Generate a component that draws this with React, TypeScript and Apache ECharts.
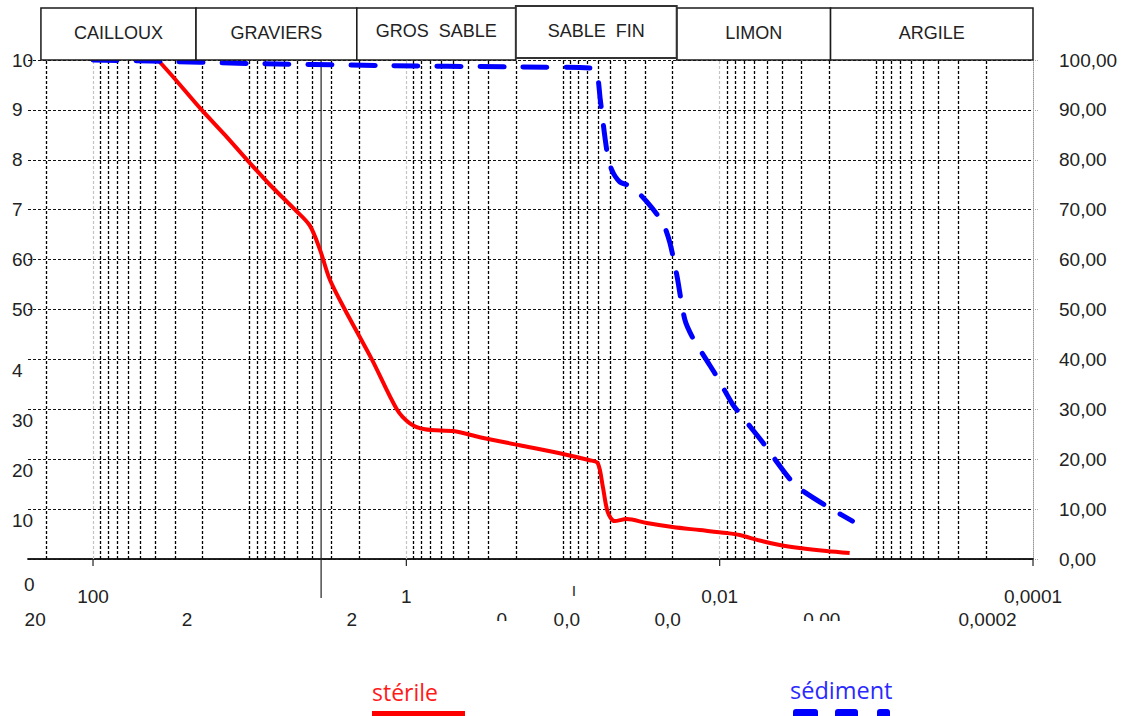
import React, { useEffect, useRef } from "react";
import * as echarts from "echarts";

// ---------- data ----------
const CLASS_NAMES = ["CAILLOUX", "GRAVIERS", "GROS  SABLE", "SABLE  FIN", "LIMON", "ARGILE"];
const CLASS_EDGES = [215, 22, 2.07, 0.2, 0.0188, 0.00196, 0.0001]; // mm

const STERILE_D = [38.5, 30, 20.8, 14.4, 10.4, 7.43, 5.14, 4.13, 3.56, 3.08, 2.47, 1.66, 1.15, 0.95, 0.762, 0.49, 0.34, 0.189, 0.105, 0.0675, 0.06, 0.0557, 0.0518, 0.0468, 0.0392, 0.0292, 0.02, 0.0134, 0.00902, 0.00745, 0.00556, 0.00414, 0.00309, 0.00208, 0.00148];
const STERILE_P = [100, 96.2, 90.4, 85, 80, 75, 70, 66.8, 62, 56, 50, 40, 30, 27.2, 26, 25.6, 24.4, 22.8, 21.2, 19.8, 19.2, 14.5, 9.4, 7.6, 8.0, 7.2, 6.4, 5.8, 5.2, 4.8, 3.7, 2.8, 2.2, 1.6, 1.2];

const SEDIMENT_D = [100, 43.3, 10, 1.5, 0.2, 0.0675, 0.061, 0.0578, 0.0526, 0.0489, 0.0435, 0.0364, 0.0292, 0.0231, 0.0208, 0.0188, 0.0167, 0.0149, 0.0121, 0.01045, 0.00826, 0.00713, 0.00532, 0.00459, 0.00347, 0.00287, 0.00193, 0.00142];
const SEDIMENT_P = [100, 99.8, 99.3, 98.9, 98.6, 98.4, 97.6, 92, 82, 78, 75.6, 74.6, 71.6, 67.4, 63.4, 57, 48, 44.4, 39.8, 36.6, 31, 28.4, 23.4, 20.6, 15.6, 13.4, 10, 7.6];

const X_MIN = 0.0001;
const X_MAX = 260;

const GRID_DASHED = [200, 90, 80, 70, 60, 50, 40, 30, 20, 10, 9, 8, 7, 6, 5, 4, 3, 2,
  0.9, 0.8, 0.7, 0.6, 0.5, 0.4, 0.3, 0.2, 0.1, 0.09, 0.08, 0.07, 0.06, 0.05, 0.04, 0.03, 0.02,
  0.009, 0.008, 0.007, 0.006, 0.005, 0.004, 0.003, 0.002, 0.001,
  0.0009, 0.0008, 0.0007, 0.0006, 0.0005, 0.0004, 0.0003, 0.0002];
const GRID_LIGHT = [100, 1, 0.01];
const SOLID_LINE_AT = 3.5;

const X_LABEL_VALUES = [100, 1, 0.01, 0.0001];
const X_LABEL_TEXTS = ["100", "1", "0,01", "0,0001"];

const ROW2_TEXTS = ["20", "2", "2", "0", "0,0", "0,0", "0,00", "0,0002"];
const ROW2_AT = [234, 25.1, 2.23, 0.246, 0.0946, 0.0215, 0.00223, 0.000195];
const ROW2_CLIPPED = [false, false, false, true, false, false, true, false];
const STRAY_MARK_TEXT = "I";
const STRAY_MARK_AT = 0.0853;

const Y_VALUES = [0, 10, 20, 30, 40, 50, 60, 70, 80, 90, 100];
const LEFT_TEXTS = ["0", "10", "20", "30", "4", "50", "60", "7", "8", "9", "10"];
const LEFT_STYLE = ["c", "b", "b", "b", "b", "a", "a", "a", "a", "a", "a"];

const LEGEND_NAMES = ["stérile", "sédiment"];

const FONT = "'Liberation Sans', Arial, sans-serif";

function zip(a: number[], b: number[]) {
  return a.map((v, i) => [v, b[i]]);
}

export default function App() {
  const ref = useRef<HTMLDivElement>(null);

  useEffect(() => {
    if (!ref.current) return;
    const chart = echarts.init(ref.current, undefined, { renderer: "svg" });

    const vLines = [
      ...GRID_DASHED.map((v) => ({ xAxis: v, lineStyle: { color: "#000", type: [3, 2], width: 1.3 } })),
      ...GRID_LIGHT.map((v) => ({ xAxis: v, lineStyle: { color: "#c4c4c4", type: [3, 2], width: 1.2 } })),
    ];

    const option: any = {
      animation: false,
      backgroundColor: "#ffffff",
      grid: { left: 28, right: 99, top: 60, bottom: 157, containLabel: false, outerBoundsMode: "none" },
      xAxis: [
        {
          type: "log",
          min: X_MIN,
          max: X_MAX,
          inverse: true,
          position: "bottom",
          axisLine: { show: true, lineStyle: { color: "#222", width: 1.5 } },
          axisTick: { show: false },
          splitLine: { show: false },
          axisLabel: {
            show: true,
            showMinLabel: true,
            showMaxLabel: true,
            margin: 28,
            fontSize: 19,
            lineHeight: 19,
            fontFamily: FONT,
            color: "#222",
            formatter: (v: number) => {
              for (let i = 0; i < X_LABEL_VALUES.length; i++) {
                if (Math.abs(Math.log10(v) - Math.log10(X_LABEL_VALUES[i])) < 1e-6) return X_LABEL_TEXTS[i];
              }
              return "";
            },
          },
        },
        {
          type: "log",
          min: X_MIN,
          max: X_MAX,
          inverse: true,
          position: "top",
          axisLine: { show: true, lineStyle: { color: "#111", width: 1.5 } },
          axisTick: { show: false },
          axisLabel: { show: false },
          splitLine: { show: false },
        },
      ],
      yAxis: [
        {
          type: "value",
          min: 0,
          max: 100,
          interval: 10,
          position: "left",
          axisLine: { show: false },
          axisTick: { show: false },
          splitLine: { show: true, lineStyle: { color: "#111", type: [3, 2], width: 1.1 } },
          axisLabel: {
            align: "left",
            margin: 16,
            formatter: (v: number) => {
              const i = Y_VALUES.indexOf(v);
              if (i < 0) return "";
              return `{${LEFT_STYLE[i]}|${LEFT_TEXTS[i]}}`;
            },
            rich: {
              a: { fontSize: 19, fontFamily: FONT, color: "#222" },
              b: { fontSize: 19, fontFamily: FONT, color: "#222", padding: [22, 0, 0, 0] },
              c: { fontSize: 19, fontFamily: FONT, color: "#222", padding: [50, 0, 0, 12] },
            },
          },
        },
        {
          type: "value",
          min: 0,
          max: 100,
          interval: 10,
          position: "right",
          axisLine: { show: true, lineStyle: { color: "#999", type: "dotted", width: 1 } },
          axisTick: { show: true, length: 6, lineStyle: { color: "#aaa", type: "dotted" } },
          splitLine: { show: false },
          axisLabel: {
            margin: 26,
            fontSize: 19,
            fontFamily: FONT,
            color: "#222",
            formatter: (v: number) => v.toFixed(2).replace(".", ","),
          },
        },
      ],
      series: [
        {
          type: "line",
          name: "grid",
          data: [],
          z: 1,
          silent: true,
          markLine: {
            silent: true,
            precision: 8,
            symbol: ["none", "none"],
            label: { show: false },
            data: vLines,
          },
        },
        {
          type: "line",
          name: LEGEND_NAMES[0],
          data: zip(STERILE_D, STERILE_P),
          showSymbol: false,
          symbol: "none",
          smooth: 0.3,
          z: 5,
          lineStyle: { color: "#ff0000", width: 4 },
        },
        {
          type: "line",
          name: LEGEND_NAMES[1],
          data: zip(SEDIMENT_D, SEDIMENT_P),
          showSymbol: false,
          symbol: "none",
          smooth: 0.25,
          z: 5,
          lineStyle: { color: "#0000ff", width: 5, type: [24, 19], cap: "round" },
        },
      ],
    };

    chart.setOption(option);

    const px = (v: number) => chart.convertToPixel({ xAxisIndex: 0 }, v) as number;
    const py = (p: number) => chart.convertToPixel({ yAxisIndex: 0 }, p) as number;
    const top = py(100);
    const bottom = py(0);

    const els: any[] = [];
    // header boxes
    CLASS_NAMES.forEach((name, i) => {
      const x0 = px(CLASS_EDGES[i]);
      const x1 = px(CLASS_EDGES[i + 1]);
      const special = i === 3;
      const y0 = special ? 6 : 8;
      const y1 = special ? top - 2 : top;
      els.push({
        type: "rect",
        z: special ? 20 : 10,
        shape: { x: x0, y: y0, width: x1 - x0, height: y1 - y0 },
        style: { fill: "#fff", stroke: special ? "#333" : "#1a1a1a", lineWidth: special ? 2 : 1.5 },
      });
      els.push({
        type: "text",
        z: special ? 21 : 11,
        x: (x0 + x1) / 2,
        y: i === 2 || i === 3 ? 31 : 33,
        style: {
          text: name,
          fill: "#222",
          font: `18px ${FONT}`,
          align: "center",
          verticalAlign: "middle",
        },
      });
    });

    // solid vertical separator
    els.push({
      type: "line",
      z: 4,
      shape: { x1: px(SOLID_LINE_AT), y1: top, x2: px(SOLID_LINE_AT), y2: 598 },
      style: { stroke: "#222", lineWidth: 1.2 },
    });

    // bottom ticks
    X_LABEL_VALUES.forEach((v) => {
      els.push({
        type: "line",
        z: 4,
        shape: { x1: px(v), y1: bottom, x2: px(v), y2: bottom + 7 },
        style: { stroke: "#222", lineWidth: 1.2 },
      });
    });

    // second row of labels
    ROW2_TEXTS.forEach((t, i) => {
      els.push({
        type: "text",
        z: 11,
        x: px(ROW2_AT[i]),
        y: 619,
        style: { text: t, fill: "#222", font: `19px ${FONT}`, align: "center", verticalAlign: "middle" },
      });
      if (ROW2_CLIPPED[i]) {
        els.push({
          type: "rect",
          z: 12,
          shape: { x: px(ROW2_AT[i]) - 25, y: 621, width: 50, height: 12 },
          style: { fill: "#fff" },
        });
      }
    });

    els.push({
      type: "text",
      z: 11,
      x: px(STRAY_MARK_AT),
      y: 591,
      style: { text: STRAY_MARK_TEXT, fill: "#111", font: `14px ${FONT}`, align: "center", verticalAlign: "middle" },
    });

    // legend
    els.push({
      type: "text",
      z: 11,
      x: 372,
      y: 692,
      style: { text: LEGEND_NAMES[0], fill: "#ff1a1a", font: `23px 'Open Sans', sans-serif`, align: "left", verticalAlign: "middle" },
    });
    els.push({
      type: "rect",
      z: 11,
      shape: { x: 372, y: 711, width: 93, height: 8 },
      style: { fill: "#ff0000" },
    });
    els.push({
      type: "text",
      z: 11,
      x: 790,
      y: 690,
      style: { text: LEGEND_NAMES[1], fill: "#2a2aff", font: `23.5px 'Open Sans', sans-serif`, align: "left", verticalAlign: "middle" },
    });
    [[793, 25], [835, 23], [877, 13]].forEach(([x, w]) => {
      els.push({
        type: "rect",
        z: 11,
        shape: { x, y: 709, width: w, height: 10, r: 3 },
        style: { fill: "#0000ff" },
      });
    });

    chart.setOption({ graphic: { elements: els } });

    return () => {
      chart.dispose();
    };
  }, []);

  return (
    <div
      ref={ref}
      style={{ position: "fixed", left: 0, top: 0, width: 1132, height: 716, background: "#fff" }}
    />
  );
}
